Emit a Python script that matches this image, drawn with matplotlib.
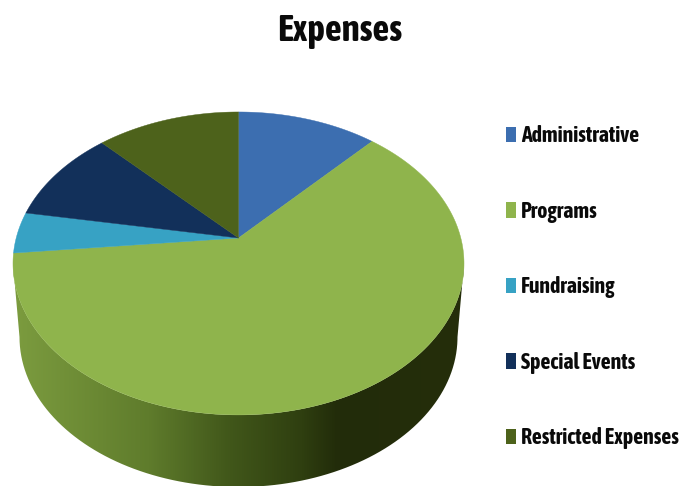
import numpy as np
import matplotlib
matplotlib.use("Agg")
import matplotlib.pyplot as plt
from matplotlib.colors import LinearSegmentedColormap
from matplotlib.patches import Patch, PathPatch
from matplotlib.path import Path

# Data
labels = ["Administrative", "Programs", "Fundraising", "Special Events", "Restricted Expenses"]
values = [11.8, 61.6, 4.4, 10.1, 12.1]
colors = ["#3c6eb0", "#8fb44c", "#37a2c4", "#12305a", "#4d621b"]

# Side wall shading, left to right
wall_stops = [0.0, 0.3, 0.48, 0.64, 0.72, 1.0]
wall_colors = ["#7c9c3f", "#5f7c2c", "#41571a", "#2f3f10", "#222c0a", "#252e0b"]

plt.rcParams['font.family'] = ['Asap Condensed', 'Lato', 'DejaVu Sans']

fig = plt.figure(figsize=(6.95, 4.86), dpi=100)
ax = fig.add_axes([0, 0, 1, 1])

# Perspective projection of the pie top, pixels
cx, cy = 238.5, 238.0
A, B, k = 222.3, 147.2, 0.168

def project(theta):
    u, v = np.sin(theta), np.cos(theta)
    d = 1 + k * v
    return cx + A * u / d, cy - B * v / d

# Side wall: top rim and base rim joined at their widest points
base_x, base_y, base_rx, base_ry = 238.5, 337.0, 219.0, 150.0
low = np.linspace(0, np.pi, 200)
top_x, top_y = 238.5 + 225.5 * np.cos(low), 263.5 + 151.5 * np.sin(low)
bot_x, bot_y = base_x + base_rx * np.cos(low), base_y + base_ry * np.sin(low)
wall = np.column_stack([np.r_[top_x, bot_x[::-1]], np.r_[top_y, bot_y[::-1]]])

cmap = LinearSegmentedColormap.from_list("wall", list(zip(wall_stops, wall_colors)))
grad = np.linspace(0, 1, 512).reshape(1, -1)
im = ax.imshow(grad, cmap=cmap, extent=(13, 464, 490, 255), aspect='auto', zorder=1)
im.set_clip_path(PathPatch(Path(wall), transform=ax.transData))

# Pie top
edges = np.r_[0, np.cumsum(values)] / sum(values) * 2 * np.pi
for i, c in enumerate(colors):
    th = np.linspace(edges[i], edges[i + 1], 300)
    x, y = project(th)
    ax.fill(np.r_[cx, x], np.r_[cy, y], color=c, lw=0.3, zorder=2)

ax.set_xlim(0, 695)
ax.set_ylim(486, 0)
ax.axis('off')

ax.text(340, 31, "Expenses", ha='center', va='center', fontsize=26.5, fontweight='bold', color='#0a0a0a')

handles = [Patch(facecolor=c, edgecolor='none', label=l) for c, l in zip(colors, labels)]
leg = ax.legend(handles=handles, loc='upper left', bbox_to_anchor=(505.5, 125), bbox_transform=ax.transData,
                frameon=False, labelspacing=2.455, handlelength=0.5, handleheight=0.7,
                handletextpad=0.22, borderpad=0, borderaxespad=0,
                prop={'size': 15.7, 'weight': 'bold'})
for txt in leg.get_texts():
    txt.set_color('#0a0a0a')

fig.savefig("out.png", dpi=100)
